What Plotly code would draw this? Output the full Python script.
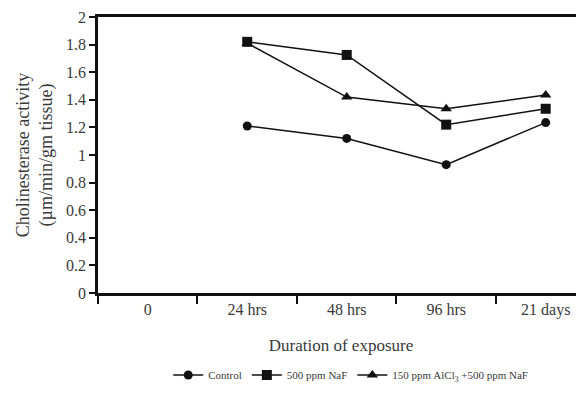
import plotly.graph_objects as go

categories = ["0", "24 hrs", "48 hrs", "96 hrs", "21 days"]
control = [None, 1.21, 1.12, 0.93, 1.235]
naf500 = [None, 1.82, 1.725, 1.22, 1.335]
alcl_naf = [None, 1.81, 1.42, 1.335, 1.435]
y_ticks = [0, 0.2, 0.4, 0.6, 0.8, 1, 1.2, 1.4, 1.6, 1.8, 2]
y_tick_text = ["0", "0.2", "0.4", "0.6", "0.8", "1", "1.2", "1.4", "1.6", "1.8", "2"]

FONT = "Liberation Serif"
TXT = "#3a3a3a"

fig = go.Figure()
series = [
    ("Control", control, "circle", 9),
    ("500 ppm NaF", naf500, "square", 10),
    ("150 ppm AlCl<sub>3</sub> +500 ppm NaF", alcl_naf, "triangle-up", 10),
]
for name, vals, sym, size in series:
    fig.add_trace(go.Scatter(
        x=categories, y=vals, name=name, mode="lines+markers",
        line=dict(color="#111", width=1.5),
        marker=dict(symbol=sym, size=size, color="#111"),
        connectgaps=False,
    ))

fig.update_layout(
    width=576, height=385,
    margin=dict(l=90, r=0, t=9, b=100),
    paper_bgcolor="white", plot_bgcolor="white",
    font=dict(family=FONT, color=TXT, size=16),
    showlegend=True,
    legend=dict(orientation="h", x=0.52, xanchor="center", y=-0.297, yanchor="middle",
                font=dict(size=11, family=FONT, color=TXT), itemwidth=30,
                tracegroupgap=0),
    xaxis=dict(
        type="category", categoryorder="array", categoryarray=categories,
        range=[-0.5, 4.385], tickson="boundaries", ticks="outside", ticklen=8,
        tickwidth=2, tickcolor="#111",
        showline=True, linecolor="#111", linewidth=2.5, mirror=True,
        showgrid=False, zeroline=False,
        tickfont=dict(size=16, family=FONT, color=TXT),
        title=dict(text="Duration of exposure", font=dict(size=17, family=FONT, color=TXT), standoff=22),
    ),
    yaxis=dict(
        range=[0, 2], tickvals=y_ticks, ticktext=y_tick_text,
        ticks="outside", ticklen=6, tickwidth=2, tickcolor="#111",
        showline=True, linecolor="#111", linewidth=2.5,
        showgrid=False, zeroline=False,
        tickfont=dict(size=16, family=FONT, color=TXT),
        title=dict(text="Cholinesterase activity<br>(µm/min/gm tissue)",
                   font=dict(size=18, family=FONT, color=TXT), standoff=9),
    ),
)

fig.write_html("out.html")
